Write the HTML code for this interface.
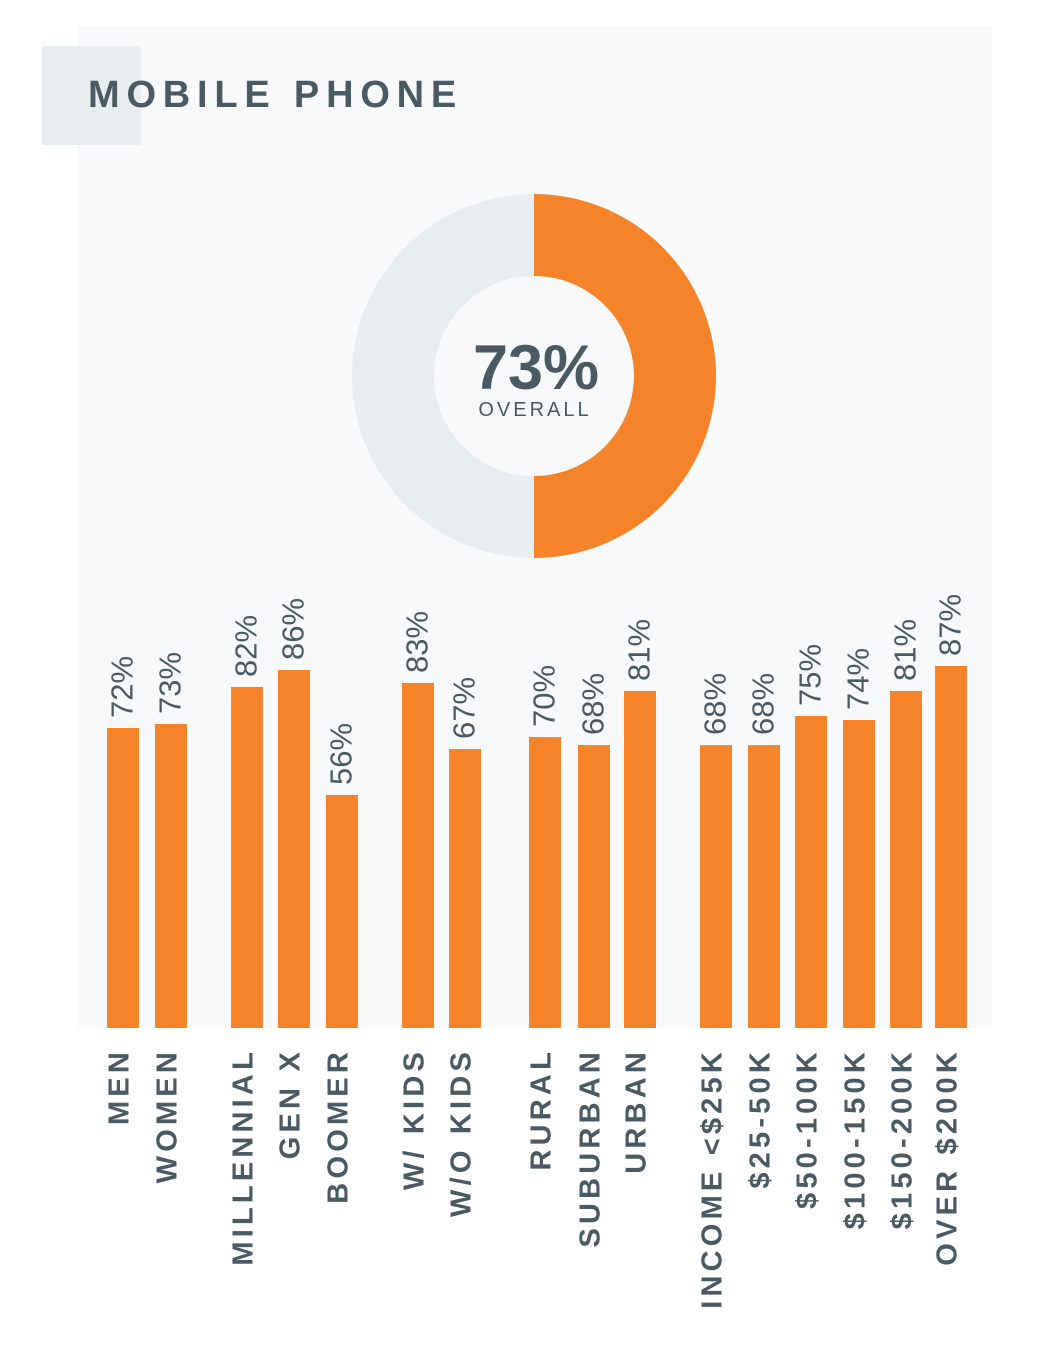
<!DOCTYPE html>
<html><head><meta charset="utf-8"><style>
body{margin:0;width:1063px;height:1347px;background:#fff;position:relative;overflow:hidden;font-family:"Liberation Sans",sans-serif}
.panel{position:absolute;left:78px;top:27px;width:914px;height:1001px;background:#f7f9fa}
.tbox{position:absolute;left:42px;top:46px;width:99px;height:99px;background:#e8eef0}
.title{position:absolute;left:88px;top:74px;font-size:38px;font-weight:bold;letter-spacing:6.8px;color:#4a5a63}
.bar{position:absolute;background:#f5832a;width:32px}
.v{position:absolute;white-space:nowrap;font-size:31px;color:#4a5a63;transform-origin:0 0;transform:rotate(-90deg) translate(0,-50%);line-height:1}
.c{position:absolute;top:1048px;white-space:nowrap;font-size:29px;font-weight:bold;letter-spacing:4.2px;color:#4a5a63;transform-origin:0 0;transform:rotate(-90deg) translate(-100%,-50%);line-height:1}
</style></head><body>
<div class="panel"></div><div class="tbox"></div>
<div class="title">MOBILE PHONE</div>
<svg style="position:absolute;left:0;top:0" width="1063" height="1347">
<circle cx="534" cy="376" r="141" fill="none" stroke="#e8eef0" stroke-width="82"/>
<path d="M534 194 A182 182 0 0 1 534 558 L534 476 A100 100 0 0 0 534 276 Z" fill="#f5832a"/>
<text x="536" y="389" text-anchor="middle" font-family="Liberation Sans" font-weight="bold" font-size="63" fill="#4a5a63">73%</text>
<text x="535" y="416" text-anchor="middle" font-family="Liberation Sans" font-size="20" letter-spacing="3" fill="#4a5a63">OVERALL</text>
</svg>
<div id="b"></div>
<script>
var d=[[107,72,"MEN"],[155,73,"WOMEN"],[231,82,"MILLENNIAL"],[278,86,"GEN X"],[326,56,"BOOMER"],[402,83,"W/ KIDS"],[449,67,"W/O KIDS"],[529,70,"RURAL"],[578,68,"SUBURBAN"],[624,81,"URBAN"],[700,68,"INCOME <$25K"],[748,68,"$25-50K"],[795,75,"$50-100K"],[843,74,"$100-150K"],[890,81,"$150-200K"],[935,87,"OVER $200K"]];
var h="";d.forEach(function(e){var t=1028-Math.round(e[1]*4.16),cx=e[0]+16;
h+='<div class="bar" style="left:'+e[0]+'px;top:'+t+'px;height:'+(1028-t)+'px"></div>';
h+='<div class="v" style="left:'+(cx-1)+'px;top:'+(t-10)+'px">'+e[1]+'%</div>';
h+='<div class="c" style="left:'+(cx-3)+'px">'+e[2].replace('<','&lt;')+'</div>';});
document.getElementById('b').innerHTML=h;
</script>
</body></html>
